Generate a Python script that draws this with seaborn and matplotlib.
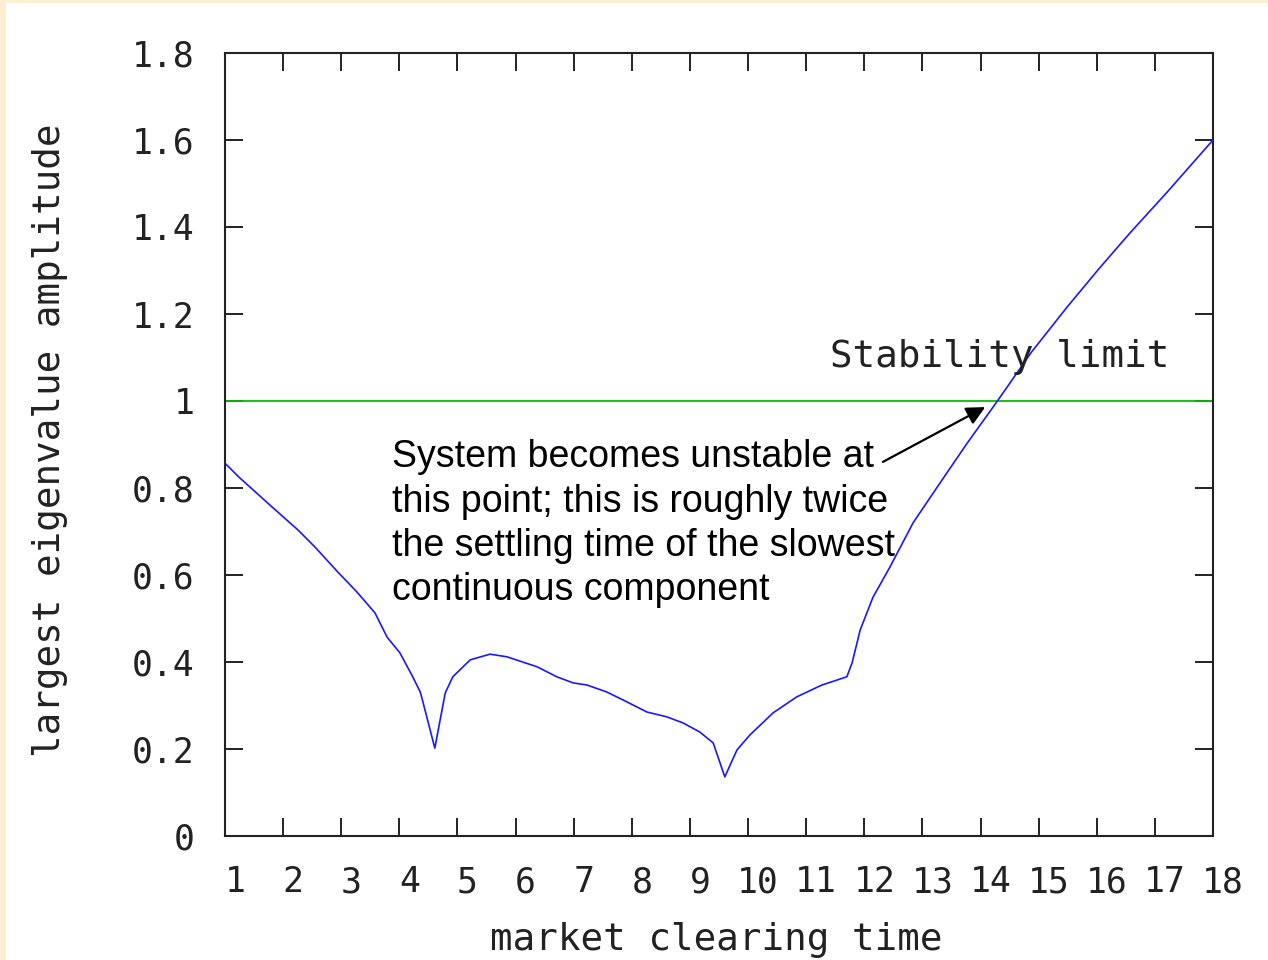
import matplotlib
matplotlib.use("Agg")
import matplotlib.pyplot as plt
import matplotlib.transforms as mtransforms
from matplotlib.patches import Rectangle
import seaborn as sns
import pandas as pd

# ---- data ----
clearing_time = [1.00, 1.24, 1.83, 2.26, 2.55, 2.94, 3.27, 3.58, 3.79, 4.01,
                 4.23, 4.36, 4.41, 4.61, 4.79, 4.92, 5.22, 5.56, 5.85, 6.37,
                 6.71, 6.99, 7.23, 7.57, 7.92, 8.26, 8.60, 8.88, 9.17, 9.40,
                 9.60, 9.81, 10.03, 10.43, 10.84, 11.27, 11.70, 11.79, 11.93, 12.15,
                 12.44, 12.84, 13.30, 13.77, 14.28, 14.88, 15.49, 16.05, 16.57, 17.21,
                 18.00]
eig_amplitude = [0.857, 0.825, 0.754, 0.703, 0.664, 0.607, 0.561, 0.513, 0.457, 0.421,
                 0.366, 0.331, 0.306, 0.202, 0.329, 0.366, 0.405, 0.418, 0.412, 0.389,
                 0.366, 0.352, 0.347, 0.331, 0.308, 0.285, 0.274, 0.260, 0.239, 0.214,
                 0.136, 0.198, 0.232, 0.283, 0.320, 0.347, 0.366, 0.398, 0.474, 0.549,
                 0.618, 0.720, 0.811, 0.903, 0.998, 1.113, 1.216, 1.306, 1.386, 1.480,
                 1.600]
stability_limit = 1.0
x_ticks = list(range(1, 19))
x_tick_labels = [str(v) for v in x_ticks]
y_ticks = [0, 0.2, 0.4, 0.6, 0.8, 1.0, 1.2, 1.4, 1.6, 1.8]
y_tick_labels = ["0", "0.2", "0.4", "0.6", "0.8", "1", "1.2", "1.4", "1.6", "1.8"]
annotation_text = ("System becomes unstable at\nthis point; this is roughly twice\n"
                   "the settling time of the slowest\ncontinuous component")
limit_label = "Stability limit"
x_label = "market clearing time"
y_label = "largest eigenvalue amplitude"

df = pd.DataFrame({"t": clearing_time, "amp": eig_amplitude})

sns.set_style("ticks")
plt.rcParams["font.family"] = ["DejaVu Sans Mono", "DejaVu Sans"]

fig = plt.figure(figsize=(12.68, 9.6), dpi=100, facecolor="white")
# cream slide border strips
fig.patches.append(Rectangle((0, 0), 6 / 1268, 1, transform=fig.transFigure,
                             facecolor="#FBEFD2", edgecolor="none", zorder=-1))
fig.patches.append(Rectangle((0, 1 - 3 / 960), 1, 3 / 960, transform=fig.transFigure,
                             facecolor="#FBEFD2", edgecolor="none", zorder=-1))

ax = fig.add_axes([225 / 1268, 124 / 960, 988 / 1268, 783 / 960])
ax.set_facecolor("white")

ax.axhline(stability_limit, color="#00C000", lw=1.3, zorder=2)
sns.lineplot(data=df, x="t", y="amp", ax=ax, color="#1818FF", lw=1.2,
             sort=False, zorder=3)

ax.set_xlim(1, 18)
ax.set_ylim(0, 1.8)
ax.set_xticks(x_ticks)
ax.set_xticklabels(x_tick_labels)
ax.set_yticks(y_ticks)
ax.set_yticklabels(y_tick_labels)

for s in ax.spines.values():
    s.set_visible(True)
    s.set_linewidth(1.5)
    s.set_color("#222222")

ax.tick_params(axis="both", which="major", direction="in", length=13, width=1.4,
               color="#222222", top=True, right=True, labelsize=25,
               labelcolor="#222222")
ax.tick_params(axis="x", pad=21)
ax.tick_params(axis="y", pad=22)

offset = mtransforms.ScaledTranslation(10 / 100, 0, fig.dpi_scale_trans)
for lab in ax.get_xticklabels():
    lab.set_transform(lab.get_transform() + offset)

ax.set_xlabel(x_label, fontsize=27, color="#222222")
ax.set_ylabel(y_label, fontsize=27, color="#222222")
ax.xaxis.set_label_coords(0.497, -0.133)
ax.xaxis.label.set_va("center")
ax.yaxis.set_label_coords(-0.177, 0.505)
ax.yaxis.label.set_va("center")

ax.text(14.33, 1.10, limit_label, fontsize=27, color="#222222",
        ha="center", va="center", zorder=4)

ax.annotate("", xy=(14.08, 0.986), xytext=(12.32, 0.86),
            arrowprops=dict(arrowstyle="-|>", color="black", lw=1.6,
                            mutation_scale=28, shrinkA=0, shrinkB=0),
            zorder=4)
ax.text(3.87, 0.912, annotation_text, family=["Liberation Sans", "DejaVu Sans"],
        fontsize=27, color="black", ha="left", va="top", linespacing=1.3,
        zorder=4)

fig.savefig("out.png", dpi=100, facecolor="white")
